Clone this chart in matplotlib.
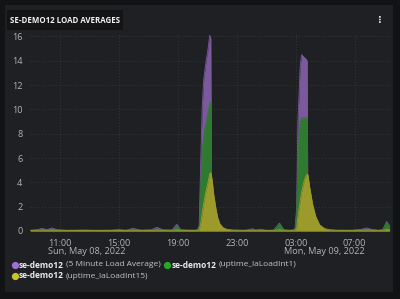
import matplotlib
matplotlib.use("Agg")
import matplotlib.pyplot as plt
import matplotlib.dates as mdates
from matplotlib.patches import Rectangle
from matplotlib.lines import Line2D
import pandas as pd

# ---- data (hours since 00:00 Sun May 08 2022) ----
hours = [9.0, 9.5, 9.8, 10.1, 10.46, 10.8, 11.5, 12.5, 13.5, 14.5,
         15.0, 15.5, 15.95, 16.5, 17.2, 17.58, 18.0, 18.6, 18.93, 19.2,
         19.8, 20.3, 20.45, 20.55, 20.65, 20.76, 20.9, 21.03, 21.17, 21.24,
         21.29, 21.35, 21.44, 21.58, 21.71, 21.85, 22.05, 22.3, 22.7, 23.2,
         23.6, 24.08, 24.3, 24.56, 25.0, 25.5, 25.9, 26.2, 26.6, 26.95,
         27.07, 27.15, 27.3, 27.4, 27.55, 27.65, 27.78, 27.83, 27.95, 28.15,
         28.36, 28.63, 28.97, 29.3, 29.8, 30.3, 30.8, 31.4, 31.8, 32.2,
         32.6, 32.9, 33.17, 33.37]
load5 = [0.05, 0.12, 0.22, 0.10, 0.25, 0.10, 0.06, 0.08, 0.06, 0.07,
         0.12, 0.06, 0.22, 0.07, 0.10, 0.30, 0.10, 0.08, 0.55, 0.10,
         0.07, 0.08, 0.40, 5.5, 10.0, 12.5, 13.8, 14.8, 16.1, 15.8,
         0.30, 0.25, 0.20, 0.15, 0.12, 0.10, 0.08, 0.07, 0.06, 0.06,
         0.07, 0.18, 0.07, 0.15, 0.06, 0.07, 0.65, 0.08, 0.06, 0.10,
         2.0, 9.0, 13.5, 14.5, 14.3, 14.2, 14.0, 0.30, 0.25, 0.20,
         0.15, 0.10, 0.08, 0.07, 0.06, 0.07, 0.06, 0.12, 0.25, 0.12,
         0.06, 0.10, 0.70, 0.35]
load1 = [0.05, 0.08, 0.12, 0.08, 0.14, 0.07, 0.05, 0.06, 0.05, 0.05,
         0.07, 0.05, 0.15, 0.05, 0.06, 0.15, 0.06, 0.06, 0.45, 0.07,
         0.05, 0.06, 0.30, 3.5, 6.5, 7.8, 8.8, 9.6, 10.5, 10.6,
         0.30, 0.25, 0.20, 0.15, 0.12, 0.10, 0.08, 0.06, 0.05, 0.05,
         0.05, 0.12, 0.05, 0.10, 0.05, 0.06, 0.60, 0.07, 0.05, 0.08,
         1.5, 6.0, 9.0, 9.3, 9.3, 9.3, 9.3, 0.30, 0.25, 0.20,
         0.15, 0.10, 0.08, 0.06, 0.05, 0.05, 0.05, 0.07, 0.12, 0.07,
         0.05, 0.08, 0.80, 0.45]
load15 = [0.05, 0.06, 0.07, 0.06, 0.08, 0.06, 0.05, 0.05, 0.05, 0.05,
          0.05, 0.05, 0.06, 0.05, 0.05, 0.07, 0.05, 0.05, 0.10, 0.06,
          0.05, 0.05, 0.10, 0.6, 1.4, 2.3, 3.2, 3.9, 4.7, 4.8,
          4.5, 4.0, 3.0, 1.9, 1.1, 0.6, 0.3, 0.15, 0.08, 0.06,
          0.05, 0.06, 0.05, 0.06, 0.05, 0.05, 0.10, 0.06, 0.05, 0.06,
          0.3, 1.2, 2.4, 3.2, 4.0, 4.4, 4.7, 4.6, 3.6, 2.2,
          1.2, 0.5, 0.2, 0.1, 0.06, 0.05, 0.05, 0.06, 0.08, 0.06,
          0.05, 0.06, 0.12, 0.10]

series_names = ["(5 Minute Load Average)", "(uptime_laLoadInt1)", "(uptime_laLoadInt15)"]
host = "se-demo12"
title = "SE-DEMO12 LOAD AVERAGES"
yticks = [0, 2, 4, 6, 8, 10, 12, 14, 16]
xtick_hours = [11, 15, 19, 23, 27, 31]
xtick_labels = ["11:00", "15:00", "19:00", "23:00", "03:00", "07:00"]
date_labels = {0: "Sun, May 08, 2022", 4: "Mon, May 09, 2022"}

fill_colors = ["#7a5a9c", "#2e7a2e", "#9c9a2a"]
dot_colors = ["#a06fd2", "#27a827", "#c9c424"]

base = pd.Timestamp("2022-05-08 00:00")
times = [base + pd.Timedelta(hours=h) for h in hours]

FONT = ["Open Sans", "DejaVu Sans"]
plt.rcParams["font.family"] = FONT

W, H = 400, 299
fig = plt.figure(figsize=(4.0, 2.99), dpi=100)
fig.patch.set_facecolor("#121315")
# panel
fig.patches.append(Rectangle((5 / W, 1 - 292 / H), 388 / W, 287 / H,
                             transform=fig.transFigure, facecolor="#1f2023",
                             edgecolor="none", zorder=-5))
# title box
fig.patches.append(Rectangle((7 / W, 1 - 30 / H), 116 / W, 20 / H,
                             transform=fig.transFigure, facecolor="#141416",
                             edgecolor="none", zorder=-4))
fig.text(10.5 / W, 1 - 20.5 / H, title, color="#f2f2f2", fontsize=5.7,
         fontweight="bold", va="center", ha="left", zorder=2)
fig.text(380 / W, 1 - 20 / H, "\u22ee", color="#d8d8d8", fontsize=7,
         va="center", ha="center", family=["DejaVu Sans"], fontweight="bold")

ax = fig.add_axes([30 / W, 1 - 231 / H, 360 / W, 197 / H])
ax.set_facecolor("none")
tnum = mdates.date2num(times)
for vals, c in zip([load5, load1, load15], fill_colors):
    ax.fill_between(tnum, 0, vals, color=c, linewidth=0, zorder=2)
    ax.plot(tnum, vals, color=c, linewidth=0.6, zorder=2)

ax.set_ylim(0, 16.2)
ax.set_xlim(mdates.date2num(base + pd.Timedelta(hours=8.97)),
            mdates.date2num(base + pd.Timedelta(hours=33.4)))
ax.set_yticks(yticks)
ax.set_yticklabels([str(v) for v in yticks])
xt = [base + pd.Timedelta(hours=h) for h in xtick_hours]
ax.set_xticks(mdates.date2num(xt))
ax.set_xticklabels(xtick_labels)
ax.tick_params(axis="both", length=0, colors="#b4b4b4", labelsize=6.6)
ax.tick_params(axis="x", pad=6)
ax.tick_params(axis="y", pad=5.5)
for s in ax.spines.values():
    s.set_visible(False)
ax.grid(True, color="#3c3d41", linestyle=(0, (1, 2.5)), linewidth=0.6, zorder=0)
ax.set_axisbelow(True)
ax.axhline(0, color="#6e8a2a", linewidth=0.8, zorder=3)

fig.canvas.draw()
renderer = fig.canvas.get_renderer()

# date line under selected ticks, left-aligned with the time label
for i, lab in enumerate(ax.get_xticklabels()):
    if i in date_labels:
        bb = lab.get_window_extent(renderer)
        fig.text(bb.x0 / W, 1 - 251.5 / H, date_labels[i], color="#b4b4b4",
                 fontsize=6.6, ha="left", va="center")


# legend (manual, chained)
def legend_item(x0, y0, name, dc):
    yf = 1 - y0 / H
    fig.add_artist(Line2D([(x0 + 2.8) / W], [yf], marker="o", markersize=4.2,
                          color=dc, linestyle="none", transform=fig.transFigure))
    t1 = fig.text((x0 + 7) / W, yf, host, color="#ececec", fontsize=6.0,
                  fontweight="bold", va="center", ha="left")
    bb = t1.get_window_extent(renderer)
    t2 = fig.text((bb.x1 + 2) / W, yf, name, color="#c4c4c4", fontsize=6.0,
                  va="center", ha="left")
    return t2.get_window_extent(renderer).x1


end1 = legend_item(12, 265, series_names[0], dot_colors[0])
legend_item(end1 + 4, 265, series_names[1], dot_colors[1])
legend_item(12, 276, series_names[2], dot_colors[2])

fig.savefig("out.png", dpi=100, facecolor=fig.get_facecolor())
